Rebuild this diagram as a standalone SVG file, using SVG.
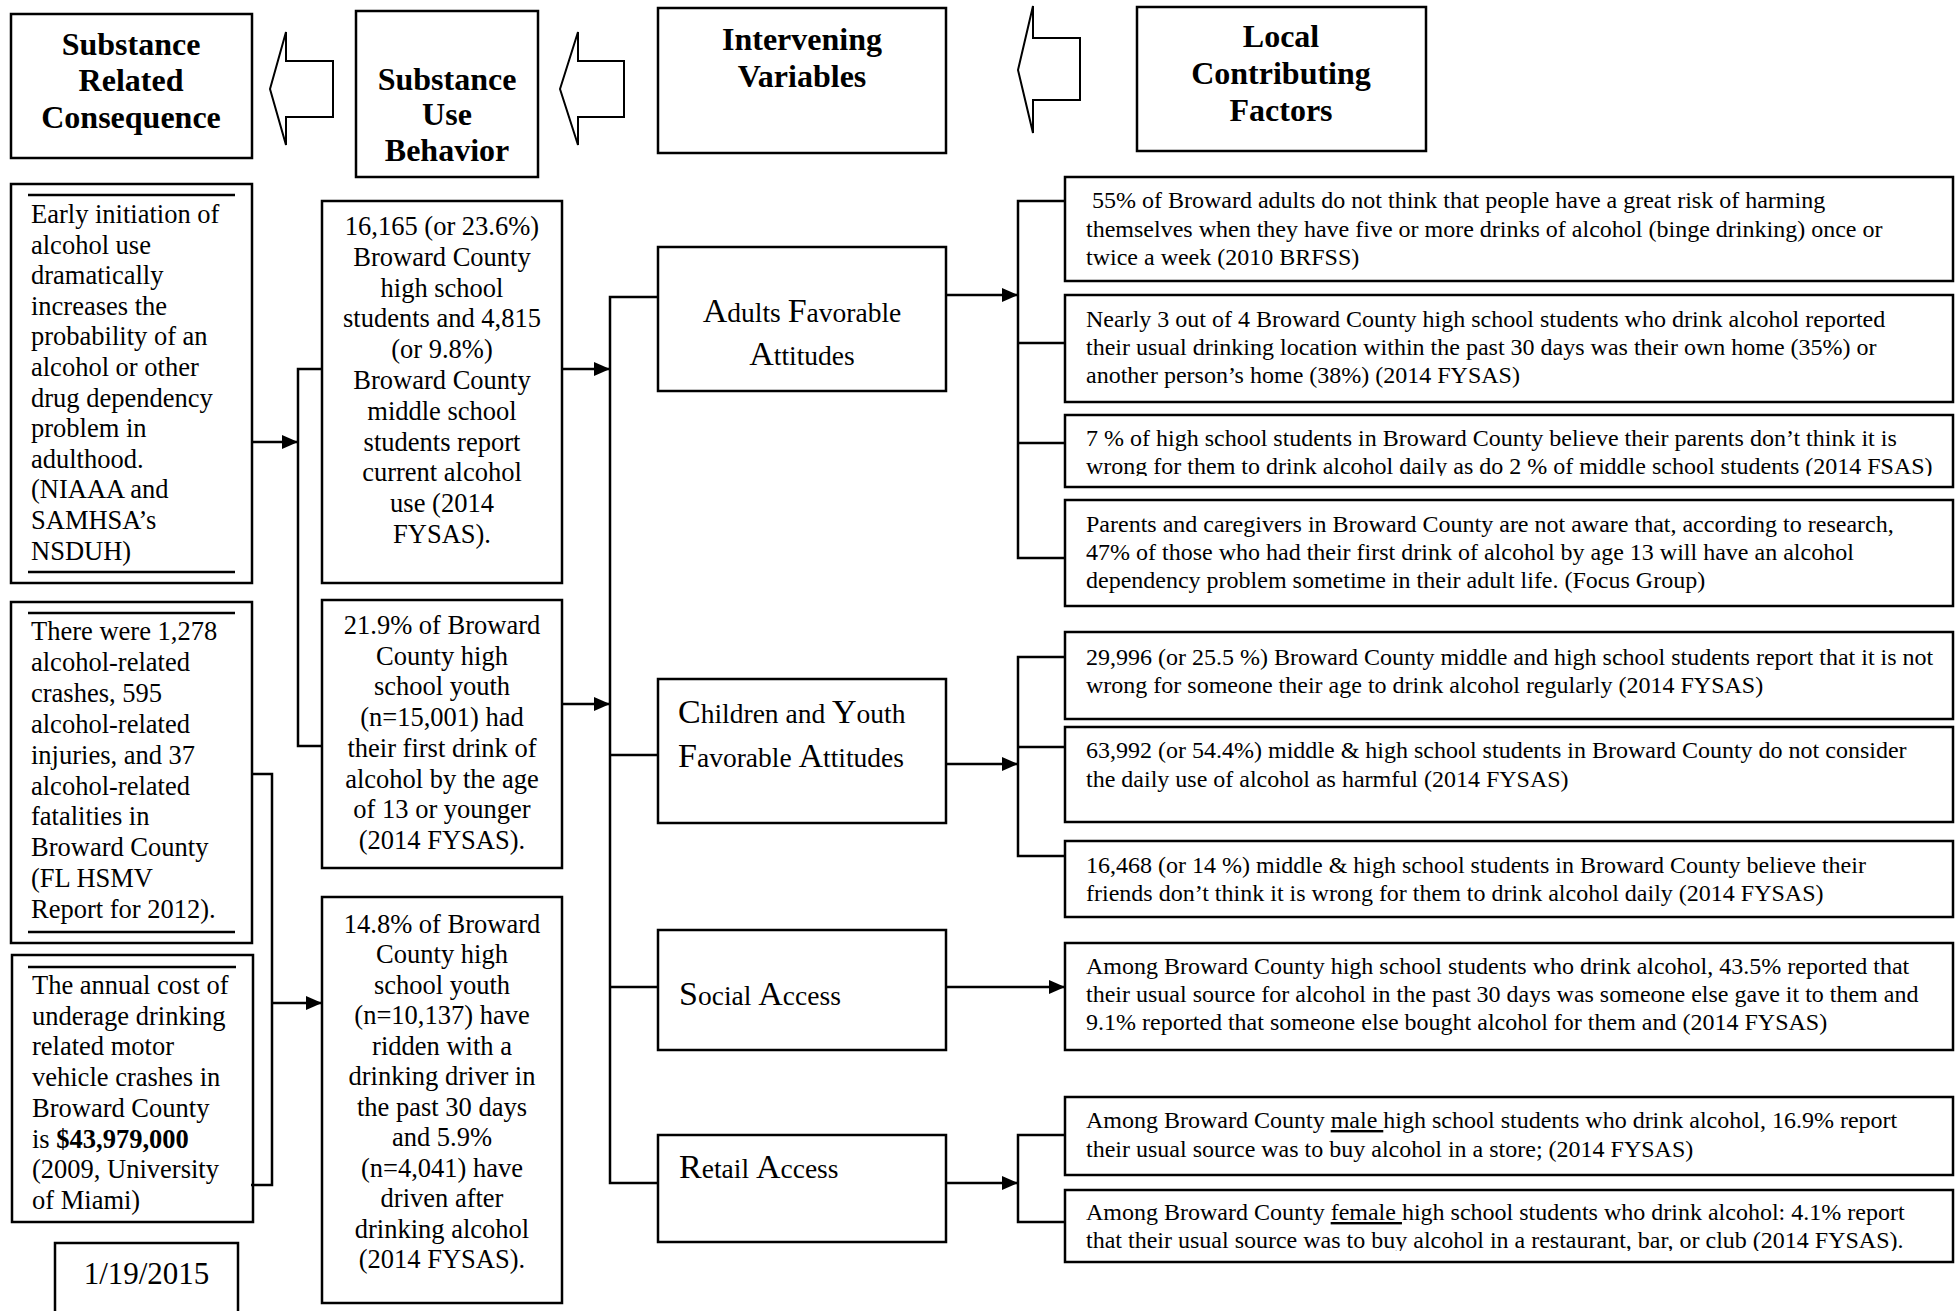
<svg xmlns="http://www.w3.org/2000/svg" width="1960" height="1311" viewBox="0 0 1960 1311">
<style>
.box{fill:#fff;stroke:#000;stroke-width:2.5}
.blk{fill:#fff;stroke:#000;stroke-width:2}
.ln{fill:none;stroke:#000;stroke-width:2.5}
.hdr{font-family:"Liberation Serif","Times New Roman",serif;font-weight:bold;font-size:32px;text-anchor:middle;fill:#000}
.lt{font-family:"Liberation Serif","Times New Roman",serif;font-size:26.5px;fill:#000}
.ctr{text-anchor:middle}
.rt{font-family:"Liberation Serif","Times New Roman",serif;font-size:24px;fill:#000}
.iv{font-family:"Liberation Serif","Times New Roman",serif;font-size:27.5px;fill:#000}
.bg{font-size:34px}
</style>
<defs>
<marker id="ah" markerWidth="16" markerHeight="14" refX="16" refY="7" orient="auto" markerUnits="userSpaceOnUse"><path d="M0,0 L16,7 L0,14 z" fill="#000"/></marker>
<clipPath id="cR3"><rect x="1060" y="410" width="900" height="66"/></clipPath>
<clipPath id="cT2"><rect x="1060" y="1185" width="900" height="66"/></clipPath>
</defs>
<rect width="1960" height="1311" fill="#fff"/>

<!-- header nodes -->
<g id="h-consequence">
<rect class="box" x="11" y="14" width="241" height="144"/>
<text class="hdr"><tspan x="131" y="55">Substance</tspan><tspan x="131" y="91">Related</tspan><tspan x="131" y="128">Consequence</tspan></text>
</g>
<g id="h-behavior">
<rect class="box" x="356" y="11" width="182" height="166"/>
<text class="hdr"><tspan x="447" y="90">Substance</tspan><tspan x="447" y="125">Use</tspan><tspan x="447" y="161">Behavior</tspan></text>
</g>
<g id="h-intervening">
<rect class="box" x="658" y="8" width="288" height="145"/>
<text class="hdr"><tspan x="802" y="50">Intervening</tspan><tspan x="802" y="87">Variables</tspan></text>
</g>
<g id="h-local">
<rect class="box" x="1137" y="7" width="289" height="144"/>
<text class="hdr"><tspan x="1281" y="47">Local</tspan><tspan x="1281" y="84">Contributing</tspan><tspan x="1281" y="121">Factors</tspan></text>
</g>

<!-- block arrows -->
<g id="block-arrows">
<polygon class="blk" points="270,89 286,32 286,61 333,61 333,117 286,117 286,145"/>
<polygon class="blk" points="560,89 578,32 578,61 624,61 624,117 578,117 578,145"/>
<polygon class="blk" points="1018,70 1033,6 1033,38 1080,38 1080,100 1033,100 1033,133"/>
</g>

<!-- consequence nodes -->
<g id="n-early">
<rect class="box" x="11" y="184" width="241" height="399"/>
<line class="ln" x1="28" y1="195" x2="235" y2="195"/>
<line class="ln" x1="28" y1="572" x2="235" y2="572"/>
<text class="lt"><tspan x="31" y="223">Early initiation of</tspan><tspan x="31" dy="30.6">alcohol use</tspan><tspan x="31" dy="30.6">dramatically</tspan><tspan x="31" dy="30.6">increases the</tspan><tspan x="31" dy="30.6">probability of an</tspan><tspan x="31" dy="30.6">alcohol or other</tspan><tspan x="31" dy="30.6">drug dependency</tspan><tspan x="31" dy="30.6">problem in</tspan><tspan x="31" dy="30.6">adulthood.</tspan><tspan x="31" dy="30.6">(NIAAA and</tspan><tspan x="31" dy="30.6">SAMHSA’s</tspan><tspan x="31" dy="30.6">NSDUH)</tspan></text>
</g>
<g id="n-crashes">
<rect class="box" x="11" y="602" width="241" height="341"/>
<line class="ln" x1="28" y1="613" x2="235" y2="613"/>
<line class="ln" x1="28" y1="932" x2="235" y2="932"/>
<text class="lt"><tspan x="31" y="640">There were 1,278</tspan><tspan x="31" dy="30.9">alcohol-related</tspan><tspan x="31" dy="30.9">crashes, 595</tspan><tspan x="31" dy="30.9">alcohol-related</tspan><tspan x="31" dy="30.9">injuries, and 37</tspan><tspan x="31" dy="30.9">alcohol-related</tspan><tspan x="31" dy="30.9">fatalities in</tspan><tspan x="31" dy="30.9">Broward County</tspan><tspan x="31" dy="30.9">(FL HSMV</tspan><tspan x="31" dy="30.9">Report for 2012).</tspan></text>
</g>
<g id="n-cost">
<rect class="box" x="12" y="955" width="241" height="267"/>
<line class="ln" x1="28" y1="967" x2="236" y2="967"/>
<text class="lt"><tspan x="32" y="994">The annual cost of</tspan><tspan x="32" dy="30.7">underage drinking</tspan><tspan x="32" dy="30.7">related motor</tspan><tspan x="32" dy="30.7">vehicle crashes in</tspan><tspan x="32" dy="30.7">Broward County</tspan><tspan x="32" dy="30.7">is <tspan font-weight="bold">$43,979,000</tspan></tspan><tspan x="32" dy="30.7">(2009, University</tspan><tspan x="32" dy="30.7">of Miami)</tspan></text>
</g>
<g id="n-date">
<rect class="box" x="55" y="1243" width="183" height="80"/>
<text class="lt ctr" style="font-size:31px" x="146.5" y="1284">1/19/2015</text>
</g>

<!-- behavior nodes -->
<g id="n-current">
<rect class="box" x="322" y="201" width="240" height="382"/>
<text class="lt ctr"><tspan x="442" y="235">16,165 (or 23.6%)</tspan><tspan x="442" dy="30.8">Broward County</tspan><tspan x="442" dy="30.8">high school</tspan><tspan x="442" dy="30.8">students and 4,815</tspan><tspan x="442" dy="30.8">(or 9.8%)</tspan><tspan x="442" dy="30.8">Broward County</tspan><tspan x="442" dy="30.8">middle school</tspan><tspan x="442" dy="30.8">students report</tspan><tspan x="442" dy="30.8">current alcohol</tspan><tspan x="442" dy="30.8">use (2014</tspan><tspan x="442" dy="30.8">FYSAS).</tspan></text>
</g>
<g id="n-first">
<rect class="box" x="322" y="600" width="240" height="268"/>
<text class="lt ctr"><tspan x="442" y="634">21.9% of Broward</tspan><tspan x="442" dy="30.7">County high</tspan><tspan x="442" dy="30.7">school youth</tspan><tspan x="442" dy="30.7">(n=15,001) had</tspan><tspan x="442" dy="30.7">their first drink of</tspan><tspan x="442" dy="30.7">alcohol by the age</tspan><tspan x="442" dy="30.7">of 13 or younger</tspan><tspan x="442" dy="30.7">(2014 FYSAS).</tspan></text>
</g>
<g id="n-ridden">
<rect class="box" x="322" y="897" width="240" height="406"/>
<text class="lt ctr"><tspan x="442" y="933">14.8% of Broward</tspan><tspan x="442" dy="30.45">County high</tspan><tspan x="442" dy="30.45">school youth</tspan><tspan x="442" dy="30.45">(n=10,137) have</tspan><tspan x="442" dy="30.45">ridden with a</tspan><tspan x="442" dy="30.45">drinking driver in</tspan><tspan x="442" dy="30.45">the past 30 days</tspan><tspan x="442" dy="30.45">and 5.9%</tspan><tspan x="442" dy="30.45">(n=4,041) have</tspan><tspan x="442" dy="30.45">driven after</tspan><tspan x="442" dy="30.45">drinking alcohol</tspan><tspan x="442" dy="30.45">(2014 FYSAS).</tspan></text>
</g>

<!-- intervening nodes -->
<g id="n-adults">
<rect class="box" x="658" y="247" width="288" height="144"/>
<text class="iv" text-anchor="middle" x="802" y="322"><tspan class="bg">A</tspan>dults <tspan class="bg">F</tspan>avorable</text>
<text class="iv" text-anchor="middle" x="802" y="365"><tspan class="bg">A</tspan>ttitudes</text>
</g>
<g id="n-children">
<rect class="box" x="658" y="679" width="288" height="144"/>
<text class="iv" x="678" y="723"><tspan class="bg">C</tspan>hildren and <tspan class="bg">Y</tspan>outh</text>
<text class="iv" x="678" y="767"><tspan class="bg">F</tspan>avorable <tspan class="bg">A</tspan>ttitudes</text>
</g>
<g id="n-social">
<rect class="box" x="658" y="930" width="288" height="120"/>
<text class="iv" x="679" y="1005"><tspan class="bg">S</tspan>ocial <tspan class="bg">A</tspan>ccess</text>
</g>
<g id="n-retail">
<rect class="box" x="658" y="1135" width="288" height="107"/>
<text class="iv" x="679" y="1178"><tspan class="bg">R</tspan>etail <tspan class="bg">A</tspan>ccess</text>
</g>

<!-- local contributing factor nodes -->
<g id="f-r1">
<rect class="box" x="1065" y="177" width="888" height="104"/>
<text class="rt"><tspan x="1092" y="208">55% of Broward adults do not think that people have a great risk of harming</tspan><tspan x="1086" y="237">themselves when they have five or more drinks of alcohol (binge drinking) once or</tspan><tspan x="1086" y="265">twice a week (2010 BRFSS)</tspan></text>
</g>
<g id="f-r2">
<rect class="box" x="1065" y="295" width="888" height="107"/>
<text class="rt"><tspan x="1086" y="327">Nearly 3 out of 4 Broward County high school students who drink alcohol reported</tspan><tspan x="1086" y="355">their usual drinking location within the past 30 days was their own home (35%) or</tspan><tspan x="1086" y="383">another person’s home (38%) (2014 FYSAS)</tspan></text>
</g>
<g id="f-r3">
<rect class="box" x="1065" y="415" width="888" height="72"/>
<text class="rt" clip-path="url(#cR3)"><tspan x="1086" y="446">7 % of high school students in Broward County believe their parents don’t think it is</tspan><tspan x="1086" y="474">wrong for them to drink alcohol daily as do 2 % of middle school students (2014 FSAS)</tspan></text>
</g>
<g id="f-r4">
<rect class="box" x="1065" y="500" width="888" height="106"/>
<text class="rt"><tspan x="1086" y="532">Parents and caregivers in Broward County are not aware that, according to research,</tspan><tspan x="1086" y="560">47% of those who had their first drink of alcohol by age 13 will have an alcohol</tspan><tspan x="1086" y="588">dependency problem sometime in their adult life. (Focus Group)</tspan></text>
</g>
<g id="f-s1">
<rect class="box" x="1065" y="632" width="888" height="87"/>
<text class="rt"><tspan x="1086" y="665">29,996 (or 25.5 %) Broward County middle and high school students report that it is not</tspan><tspan x="1086" y="693">wrong for someone their age to drink alcohol regularly (2014 FYSAS)</tspan></text>
</g>
<g id="f-s2">
<rect class="box" x="1065" y="727" width="888" height="95"/>
<text class="rt"><tspan x="1086" y="758">63,992 (or 54.4%) middle &amp; high school students in Broward County do not consider</tspan><tspan x="1086" y="787">the daily use of alcohol as harmful (2014 FYSAS)</tspan></text>
</g>
<g id="f-s3">
<rect class="box" x="1065" y="841" width="888" height="76"/>
<text class="rt"><tspan x="1086" y="873">16,468 (or 14 %) middle &amp; high school students in Broward County believe their</tspan><tspan x="1086" y="901">friends don’t think it is wrong for them to drink alcohol daily (2014 FYSAS)</tspan></text>
</g>
<g id="f-s4">
<rect class="box" x="1065" y="943" width="888" height="107"/>
<text class="rt"><tspan x="1086" y="974">Among Broward County high school students who drink alcohol, 43.5% reported that</tspan><tspan x="1086" y="1002">their usual source for alcohol in the past 30 days was someone else gave it to them and</tspan><tspan x="1086" y="1030">9.1% reported that someone else bought alcohol for them and (2014 FYSAS)</tspan></text>
</g>
<g id="f-t1">
<rect class="box" x="1065" y="1097" width="888" height="78"/>
<text class="rt"><tspan x="1086" y="1128">Among Broward County <tspan style="text-decoration:underline">male </tspan>high school students who drink alcohol, 16.9% report</tspan><tspan x="1086" y="1157">their usual source was to buy alcohol in a store; (2014 FYSAS)</tspan></text>
</g>
<g id="f-t2">
<rect class="box" x="1065" y="1190" width="888" height="72"/>
<text class="rt" clip-path="url(#cT2)"><tspan x="1086" y="1220">Among Broward County <tspan style="text-decoration:underline">female </tspan>high school students who drink alcohol: 4.1% report</tspan><tspan x="1086" y="1248">that their usual source was to buy alcohol in a restaurant, bar, or club (2014 FYSAS).</tspan></text>
</g>

<!-- connectors -->
<g id="connectors" class="ln">
<line x1="252" y1="442" x2="298" y2="442" marker-end="url(#ah)"/>
<polyline points="322,369 298,369 298,746 322,746"/>
<polyline points="252,774 272,774 272,1185 251,1185"/>
<line x1="272" y1="1003" x2="322" y2="1003" marker-end="url(#ah)"/>
<line x1="562" y1="369" x2="610" y2="369" marker-end="url(#ah)"/>
<line x1="562" y1="704" x2="610" y2="704" marker-end="url(#ah)"/>
<polyline points="658,297 610,297 610,1183 658,1183"/>
<line x1="610" y1="755" x2="658" y2="755"/>
<line x1="610" y1="987" x2="658" y2="987"/>
<line x1="946" y1="295" x2="1018" y2="295" marker-end="url(#ah)"/>
<polyline points="1065,201 1018,201 1018,558 1065,558"/>
<line x1="1018" y1="343" x2="1065" y2="343"/>
<line x1="1018" y1="443" x2="1065" y2="443"/>
<line x1="946" y1="764" x2="1018" y2="764" marker-end="url(#ah)"/>
<polyline points="1065,657 1018,657 1018,856 1065,856"/>
<line x1="1018" y1="747" x2="1065" y2="747"/>
<line x1="946" y1="987" x2="1065" y2="987" marker-end="url(#ah)"/>
<line x1="946" y1="1183" x2="1018" y2="1183" marker-end="url(#ah)"/>
<polyline points="1065,1135 1018,1135 1018,1222 1065,1222"/>
</g>
</svg>
